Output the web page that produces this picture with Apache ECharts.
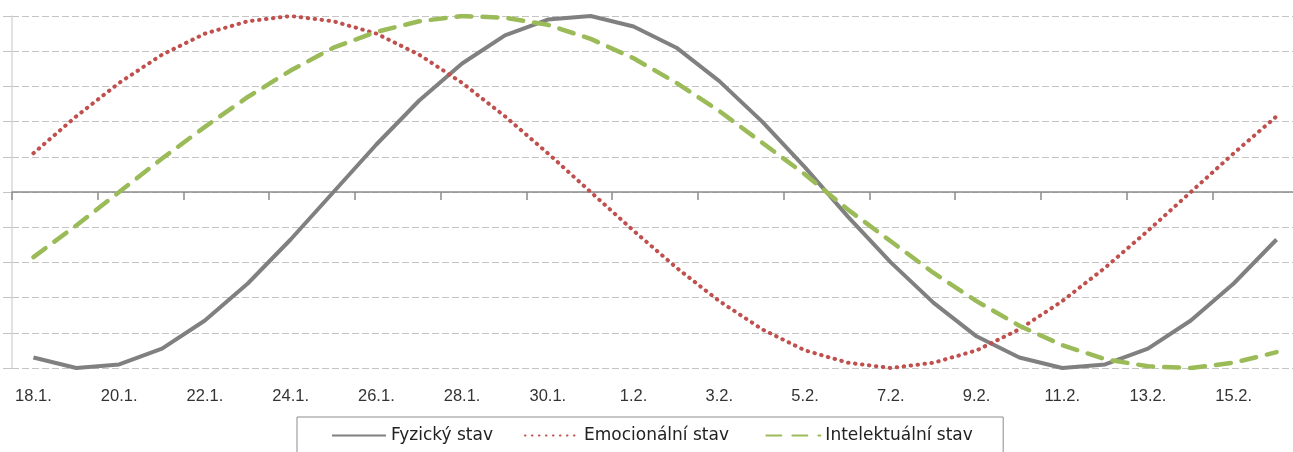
<!DOCTYPE html>
<html>
<head>
<meta charset="utf-8">
<script src="https://cdn.jsdelivr.net/npm/echarts@6/dist/echarts.min.js"></script>
<style>
  html, body { margin: 0; padding: 0; background: #fff; }
  #chart { width: 1293px; height: 452px; }
</style>
</head>
<body>
<div id="chart"></div>
<script>
// dny od 18.1. do 16.2.
const days = [
  '18.1.', '19.1.', '20.1.', '21.1.', '22.1.', '23.1.', '24.1.', '25.1.', '26.1.', '27.1.',
  '28.1.', '29.1.', '30.1.', '31.1.', '1.2.', '2.2.', '3.2.', '4.2.', '5.2.', '6.2.',
  '7.2.', '8.2.', '9.2.', '10.2.', '11.2.', '12.2.', '13.2.', '14.2.', '15.2.', '16.2.'
];

const fyzicky = [
  -0.94, -1.00, -0.98, -0.89, -0.73, -0.52, -0.27, 0.00, 0.27, 0.52,
  0.73, 0.89, 0.98, 1.00, 0.94, 0.82, 0.63, 0.40, 0.14, -0.14,
  -0.40, -0.63, -0.82, -0.94, -1.00, -0.98, -0.89, -0.73, -0.52, -0.27
];

const emocionalni = [
  0.22, 0.43, 0.62, 0.78, 0.90, 0.97, 1.00, 0.97, 0.90, 0.78,
  0.62, 0.43, 0.22, 0.00, -0.22, -0.43, -0.62, -0.78, -0.90, -0.97,
  -1.00, -0.97, -0.90, -0.78, -0.62, -0.43, -0.22, 0.00, 0.22, 0.43
];

const intelektualni = [
  -0.37, -0.19, 0.00, 0.19, 0.37, 0.54, 0.69, 0.82, 0.91, 0.97,
  1.00, 0.99, 0.95, 0.87, 0.76, 0.62, 0.46, 0.28, 0.10, -0.10,
  -0.28, -0.46, -0.62, -0.76, -0.87, -0.95, -0.99, -1.00, -0.97, -0.91
];

const chart = echarts.init(document.getElementById('chart'));

const font = '"Liberation Sans", Arial, sans-serif';
const legendFont = '"DejaVu Sans", sans-serif';

const option = {
  animation: false,
  textStyle: { fontFamily: font },
  grid: {
    left: 12,
    top: 16,
    width: 1286,
    bottom: 84,
    outerBoundsMode: 'none'
  },
  legend: {
    left: 297,
    top: 417,
    padding: [10, 25, 30, 34],
    borderColor: '#8c8c8c',
    borderWidth: 1,
    itemWidth: 54,
    itemHeight: 14,
    itemGap: 31,
    // bez koleckovych symbolu v legende
    itemStyle: { opacity: 0, color: 'rgba(0,0,0,0)', borderWidth: 0 },
    textStyle: { fontSize: 17, color: '#222', fontFamily: legendFont },
    // trochu sirsi mezery za delsimi popisky
    formatter: (name) => name === 'Fyzický stav' ? name : name + '\u00a0',
    data: ['Fyzický stav', 'Emocionální stav', 'Intelektuální stav']
  },
  xAxis: [
    {
      type: 'category',
      data: days,
      boundaryGap: true,
      axisLine: { onZero: true, lineStyle: { color: '#8c8c8c', width: 1.5 } },
      axisTick: { show: true, interval: 1, length: 8, lineStyle: { color: '#8c8c8c', width: 1.5 } },
      axisLabel: { show: false },
      splitLine: { show: false }
    },
    {
      type: 'category',
      data: days,
      position: 'bottom',
      boundaryGap: true,
      axisLine: { show: false, onZero: false },
      axisTick: { show: false },
      axisLabel: { interval: 1, margin: 20, fontSize: 16.5, color: '#333', fontFamily: font },
      splitLine: { show: false }
    }
  ],
  yAxis: {
    type: 'value',
    min: -1,
    max: 1,
    interval: 0.2,
    axisLine: { show: true, lineStyle: { color: '#d9d9d9', width: 1.5 } },
    axisTick: { show: true, length: 9, lineStyle: { color: '#c4c4c4' } },
    axisLabel: { show: false },
    splitLine: { lineStyle: { color: '#c4c4c4', type: [7, 3], width: 1.2 } }
  },
  series: [
    {
      name: 'Fyzický stav',
      type: 'line',
      data: fyzicky,
      showSymbol: false,
      symbol: 'none',
      lineStyle: { color: '#808080', width: 4 },
      itemStyle: { color: '#808080' }
    },
    {
      name: 'Emocionální stav',
      type: 'line',
      data: emocionalni,
      showSymbol: false,
      symbol: 'none',
      lineStyle: { color: '#c0504d', width: 4, type: [0.5, 6.5], cap: 'round' },
      itemStyle: { color: '#c0504d' }
    },
    {
      name: 'Intelektuální stav',
      type: 'line',
      data: intelektualni,
      showSymbol: false,
      symbol: 'none',
      lineStyle: { color: '#9bbb59', width: 4.5, type: [15, 11], cap: 'round' },
      itemStyle: { color: '#9bbb59' }
    }
  ]
};

chart.setOption(option);
</script>
</body>
</html>
